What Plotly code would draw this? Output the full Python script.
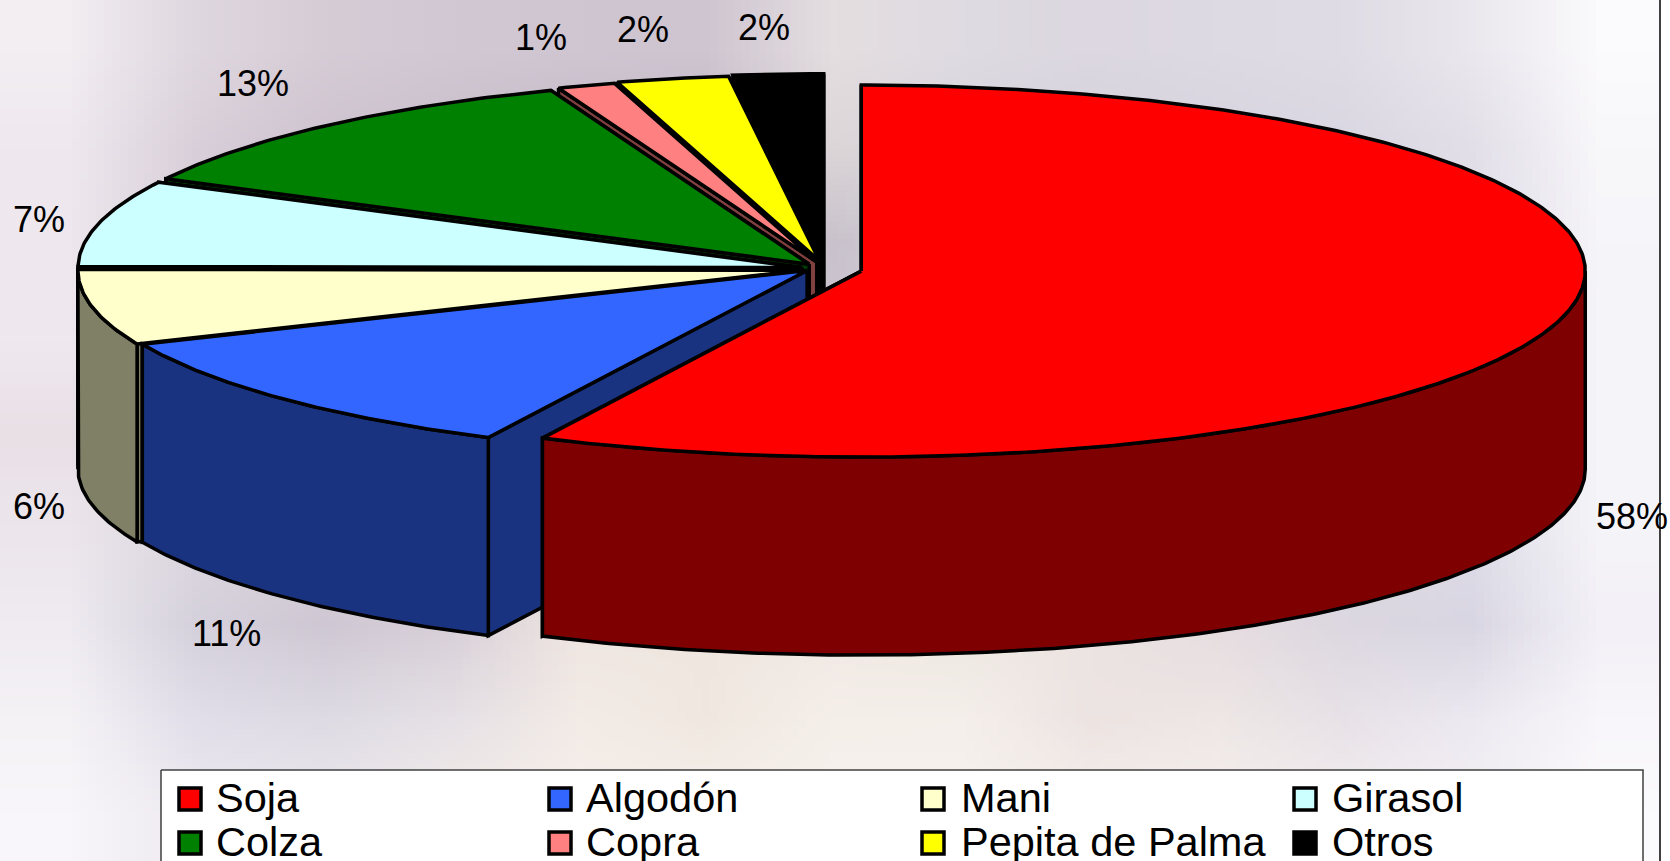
import base64, struct, zlib
import numpy as np
import plotly.graph_objects as go

# ---- data ----
categories = ["Soja", "Algodón", "Mani", "Girasol", "Colza", "Copra", "Pepita de Palma", "Otros"]
# share of the drawn circle taken by each slice
values = [57.2, 11.25, 6.55, 7.5, 11.6, 1.3, 2.5, 2.0]
# percentages printed next to the slices
percent_labels = ["58%", "11%", "6%", "7%", "13%", "1%", "2%", "2%"]

# ---- styles ----
top_colors = ["#ff0000", "#3366ff", "#ffffcc", "#ccffff", "#008000", "#ff8080", "#ffff00", "#000000"]
wall_colors = ["#7f0000", "#1a3380", "#808066", "#668080", "#004000", "#804040", "#808000", "#000000"]
pull_x = [0.05, 0.036, 0.034, 0.034, 0.035, 0.04, 0.045, 0.05]
pull_y = [0.05, 0.012, 0.034, 0.034, 0.035, 0.04, 0.045, 0.05]

W, H = 1670, 861
CX, CY, RX, RY, DEPTH = 826, 269, 724, 186, 198
FONT = "Liberation Sans, Arial, sans-serif"
STROKE = 3.5

label_pos = [(1632, 516), (226, 633), (39, 506), (39, 219), (253, 83), (541, 37), (643, 29), (764, 27)]
legend_cols = [(190, 214), (560, 584), (933, 959), (1305, 1330)]
legend_rows = [799, 843]

# low-resolution colours of the faded photograph behind the chart
bg_rows = [
    "f2eef2 dfd7df d6ccd6 d2c8d4 d0c6d2 cfc5d1 e4dee0 dfdbe2 dcd7e0 dedae3 e0dce5 eae7ee fbfafc".split(),
    "efe9ef d9cfda cec3cf c9bfcb c4b9c6 c2b7c5 dcd6d8 d6d3dd d5d3de d6d4e0 d9d7e2 e2dfe8 f8f7fa".split(),
    "eee8ee d8cdd8 cfc4d0 cac0cc c8bdca c4bac8 c9c2cc d2cfd9 d2d0dc d3d1dd d6d4e0 dedce7 f6f5f9".split(),
    "efe9ef ddd6df d6ccd6 d0c8d2 ccc4ce c8c0cc ccc6d0 d2ced8 d2d0dc d3d1dd d6d4e0 dedce7 f5f4f8".split(),
    "e9e0e6 d9d0da d6ccd6 d4ccd6 d2ccd4 d4ced6 d8d2da dad6de dad6e0 d8d4e0 d8d5e0 dedce7 f5f4f8".split(),
    "ece6ec dcd6de d8d0da d8d0da dcd4da e2dadc e6e0e0 e6e0e0 e4dee0 e0dae0 dcd8e2 dedde7 f5f4f8".split(),
    "efebf1 d5d1dc cfc8d4 d8cfd8 efe6e2 efe6df f0e8e4 eee8e2 ebe4e2 e6dde0 dcd7e0 d9d6e3 f3f1f7".split(),
    "f5f2f6 e2deea dedbe4 e6e1e6 f3ebe6 f0e8e0 f5efea f5efeb ede4e2 eee7e5 e8e2e8 ede9f1 f8f6fa".split(),
    "f8f6fa eeeaf0 ece8ee f2ece8 f6efec f6efea f7f2ee f7f2ee f5efec f5efee f3eef0 f3f0f4 fbfafc".split(),
]


def background_png(rows):
    raw = b""
    for row in rows:
        raw += b"\x00" + b"".join(bytes.fromhex(c) for c in row)

    def chunk(tag, data):
        crc = zlib.crc32(tag + data) & 0xFFFFFFFF
        return struct.pack(">I", len(data)) + tag + data + struct.pack(">I", crc)

    png = b"\x89PNG\r\n\x1a\n"
    png += chunk(b"IHDR", struct.pack(">IIBBBBB", len(rows[0]), len(rows), 8, 2, 0, 0, 0))
    png += chunk(b"IDAT", zlib.compress(raw))
    png += chunk(b"IEND", b"")
    return "data:image/png;base64," + base64.b64encode(png).decode()


def polygon(xs, ys, fill, color="#000000", width=STROKE):
    return go.Scatter(
        x=list(xs), y=list(ys), mode="lines", fill="toself", fillcolor=fill,
        line=dict(color=color, width=width), hoverinfo="skip", showlegend=False,
    )


def rim(cx, cy, a0, a1):
    t = np.radians(np.linspace(a0, a1, max(2, int(abs(a1 - a0) * 2) + 1)))
    return cx + RX * np.sin(t), cy - RY * np.cos(t)


# slice angles from the values, clockwise from 12 o'clock
edges = np.concatenate([[0.0], np.cumsum(values)]) / np.sum(values) * 360.0
slices = []
for i in range(len(values)):
    a0, a1 = edges[i], edges[i + 1]
    mid = np.radians((a0 + a1) / 2)
    cx = CX + pull_x[i] * RX * np.sin(mid)
    cy = CY - pull_y[i] * RY * np.cos(mid)
    slices.append((i, a0, a1, cx, cy))

fig = go.Figure()

# painter's order: rear slices first, the large front slice last
for i, a0, a1, cx, cy in reversed(slices):
    for a in (a1, a0):
        ex, ey = rim(cx, cy, a, a)
        fig.add_trace(polygon(
            [cx, ex[0], ex[0], cx, cx],
            [cy, ey[0], ey[0] + DEPTH, cy + DEPTH, cy],
            wall_colors[i],
        ))
    lo, hi = max(a0, 90.0), min(a1, 270.0)
    if hi > lo:
        rx_, ry_ = rim(cx, cy, lo, hi)
        fig.add_trace(polygon(
            np.concatenate([rx_, rx_[::-1], rx_[:1]]),
            np.concatenate([ry_, ry_[::-1] + DEPTH, ry_[:1]]),
            wall_colors[i],
        ))
    tx, ty = rim(cx, cy, a0, a1)
    fig.add_trace(polygon(
        np.concatenate([[cx], tx, [cx]]),
        np.concatenate([[cy], ty, [cy]]),
        top_colors[i],
    ))

# percentage labels
for text, (x, y) in zip(percent_labels, label_pos):
    fig.add_annotation(x=x, y=y, text=text, showarrow=False, xanchor="center", yanchor="middle",
                       font=dict(family=FONT, size=36, color="#000000"))

# frame on the right of the picture and the legend box
fig.add_trace(polygon([1660, 1672, 1672, 1660, 1660], [-5, -5, 866, 866, -5], "#ffffff", "#ffffff", 0))
fig.add_trace(go.Scatter(x=[1660, 1660], y=[-5, 866], mode="lines", hoverinfo="skip", showlegend=False,
                         line=dict(color="#000000", width=1.5)))
fig.add_trace(polygon([161, 1643, 1643, 161, 161], [770, 770, 880, 880, 770], "#ffffff", "#404040", 1.5))

for k, name in enumerate(categories):
    row, col = divmod(k, 4)
    sx, tx = legend_cols[col]
    sy = legend_rows[row]
    fig.add_trace(go.Scatter(
        x=[sx], y=[sy], mode="markers", hoverinfo="skip", showlegend=False,
        marker=dict(symbol="square", size=22, color=top_colors[k], line=dict(color="#000000", width=3.5)),
    ))
    fig.add_annotation(x=tx, y=sy - 2, text=name, showarrow=False, xanchor="left", yanchor="middle",
                       font=dict(family=FONT, size=41.5, color="#000000"))

fig.update_layout(
    width=W, height=H, autosize=False,
    margin=dict(l=0, r=0, t=0, b=0, pad=0),
    paper_bgcolor="#ffffff", plot_bgcolor="rgba(0,0,0,0)",
    showlegend=False,
    xaxis=dict(range=[0, W], visible=False, fixedrange=True),
    yaxis=dict(range=[H, 0], visible=False, fixedrange=True),
    images=[dict(source=background_png(bg_rows), xref="x", yref="y", x=0, y=0, sizex=1660, sizey=H,
                 sizing="stretch", xanchor="left", yanchor="top", layer="below")],
)

fig.write_html(
    "out.html", config=dict(displayModeBar=False),
    post_script="document.body.style.margin='0';document.documentElement.style.overflow='hidden';",
)
